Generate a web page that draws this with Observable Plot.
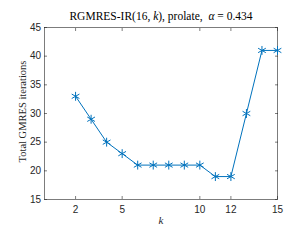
<!DOCTYPE html>
<html><head><meta charset="utf-8">
<script src="https://cdn.jsdelivr.net/npm/d3@7"></script>
<script src="https://cdn.jsdelivr.net/npm/@observablehq/plot@0.6"></script>
<style>
html,body{margin:0;padding:0;background:#fff;}
#wrap{position:relative;width:292px;height:240px;}
#title{position:absolute;left:44px;width:234px;top:10px;text-align:center;font-family:"Liberation Serif","DejaVu Serif",serif;font-size:11.5px;color:#000;white-space:nowrap;}
</style></head>
<body>
<div id="wrap"><div id="title">RGMRES-IR(16, <i>k</i>), prolate,&nbsp; <i>α</i> = 0.434</div></div>
<script>
const kValues = [2,3,4,5,6,7,8,9,10,11,12,13,14,15];
const iterations = [33,29,25,23,21,21,21,21,21,19,19,30,41,41];
const xTicks = [2,5,10,12,15];
const yTicks = [15,20,25,30,35,40,45];
const yLabel = "Total GMRES iterations";
const xLabel = "k";

const data = kValues.map((k,i)=>({k, it: iterations[i]}));
const blue = "#0072BD";
const axisColor = "#262626";
const chart = Plot.plot({
  width: 292, height: 240,
  marginLeft: 44, marginRight: 15, marginTop: 27, marginBottom: 41,
  style: {fontFamily: "'Liberation Sans', Arial, sans-serif", fontSize: "10px", color: axisColor, background: "white"},
  x: {domain: [0,15]},
  y: {domain: [15,45]},
  marks: [
    Plot.frame({stroke: axisColor, strokeWidth: 0.6}),
    Plot.axisX(xTicks, {anchor: "bottom", tickSize: -3, tickPadding: 9, label: null, stroke: axisColor, strokeWidth: 0.6}),
    Plot.axisX(xTicks, {anchor: "top", tickSize: -3, text: null, label: null, stroke: axisColor, strokeWidth: 0.6}),
    Plot.axisY(yTicks, {anchor: "left", tickSize: -3, tickPadding: 6.5, label: null, stroke: axisColor, strokeWidth: 0.6}),
    Plot.axisY(yTicks, {anchor: "right", tickSize: -3, text: null, label: null, stroke: axisColor, strokeWidth: 0.6}),
    Plot.line(data, {x: "k", y: "it", stroke: blue, strokeWidth: 1}),
    Plot.dot(data, {x: "k", y: "it", symbol: "asterisk", r: 4.2, stroke: blue, strokeWidth: 1}),
    Plot.text([xLabel], {frameAnchor: "bottom", dy: 24, text: d=>d, fontFamily: "'Liberation Serif', serif", fontStyle: "italic", fontSize: 11, fill: axisColor}),
    Plot.text([yLabel], {frameAnchor: "left", textAnchor: "middle", dx: -22, dy: -2, rotate: -90, text: d=>d, fontFamily: "'Liberation Serif', serif", fontSize: 10.5, fill: axisColor})
  ]
});
document.getElementById("wrap").appendChild(chart);
</script>
</body></html>
